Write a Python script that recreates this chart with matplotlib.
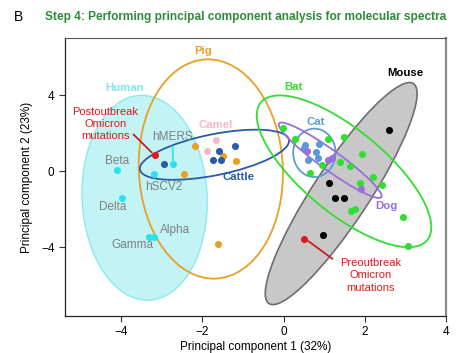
import matplotlib
matplotlib.use("Agg")
import matplotlib.pyplot as plt
from matplotlib.patches import Ellipse
from matplotlib.transforms import ScaledTranslation

plt.rcParams['font.family'] = ['Liberation Sans', 'DejaVu Sans']

# PCA scores
human_x = [-4.09, -3.97, -3.32, -3.19, -3.18, -2.73]
human_y = [0.05, -1.40, -3.44, -3.44, -0.16, 0.40]
pig_x = [-2.46, -2.18, -1.49, -1.18, -1.62]
pig_y = [-0.12, 1.31, 0.79, 0.54, -3.82]
camel_x = [-1.88, -1.67]
camel_y = [1.05, 1.62]
cattle_x = [-2.95, -1.58, -1.74, -1.55, -1.20]
cattle_y = [0.40, 1.05, 0.58, 0.61, 1.31]
cat_x = [0.52, 0.87, 0.80, 0.85, 0.60, 0.50]
cat_y = [1.36, 1.45, 1.01, 0.70, 0.58, 1.20]
dog_x = [0.58, 1.09, 1.20, 1.90]
dog_y = [1.07, 0.58, 0.70, -0.91]
bat_x = [-0.02, 0.28, 1.10, 1.49, 1.94, 1.40, 1.63, 0.95, 0.64, 1.88, 2.21, 2.43, 1.67, 1.77, 2.95, 3.06]
bat_y = [2.27, 1.71, 1.71, 1.80, 0.93, 0.49, 0.28, 0.31, -0.09, -0.61, -0.30, -0.70, -2.10, -1.96, -2.40, -3.94]
mouse_x = [2.59, 1.13, 1.28, 1.49, 0.97]
mouse_y = [2.18, -0.61, -1.38, -1.38, -3.34]
post_x, post_y = [-3.17], [0.87]
pre_x, pre_y = [0.50], [-3.53]

variants = ['Beta', 'Delta', 'Gamma', 'Alpha', 'hSCV2', 'hMERS']

cyan = '#2ee0ee'
orange = '#e9a025'
pink = '#f5b8c8'
navy = '#2a5aa8'
green = '#2fe02f'
lblue = '#5b9bd5'
purple = '#9b6ddd'
red = '#dd1a1a'
gray_txt = '#7f7f7f'

fig = plt.figure(figsize=(4.66, 3.53), dpi=100)
ax = fig.add_axes([0.1395, 0.1048, 0.8175, 0.7875])
ax.set_xlim(-5.38, 4.0)
ax.set_ylim(-7.6, 7.0)


def ell(cx, cy, a, b, ang, **kw):
    # a, b: semi axes in screen pixels
    tr = fig.dpi_scale_trans + ScaledTranslation(cx, cy, ax.transData)
    e = Ellipse((0, 0), 2 * a / 100, 2 * b / 100, angle=ang, transform=tr, **kw)
    ax.add_patch(e)


# filled ellipses
ell(-3.42, -1.39, 102.5, 62.5, 92.5, facecolor='#c2f3f5', edgecolor='#8ceaf0', lw=1.0, zorder=1)
ell(1.42, -1.17, 131.6, 28, 56.7, facecolor='#c8c8c8', edgecolor='#6e6e6e', lw=1.2, zorder=1)
# outline ellipses
ell(-1.79, 0.12, 109.7, 72, 92.6, facecolor='none', edgecolor=orange, lw=1.3, zorder=2)
ell(-1.70, 0.87, 76, 20.5, 11.4, facecolor='none', edgecolor=navy, lw=1.3, zorder=2)
ell(1.49, 0.0, 108, 41.5, -39.6, facecolor='none', edgecolor=green, lw=1.3, zorder=2)
ell(0.76, 0.97, 21.2, 24.2, 0, facecolor='none', edgecolor=lblue, lw=1.3, zorder=2)
ell(1.15, 0.58, 63, 10, -35.8, facecolor='none', edgecolor=purple, lw=1.3, zorder=2)

s = 26
ax.scatter(human_x, human_y, s=s, color=cyan, zorder=3, linewidths=0)
ax.scatter(pig_x, pig_y, s=s, color=orange, zorder=3, linewidths=0)
ax.scatter(camel_x, camel_y, s=s, color=pink, zorder=3, linewidths=0)
ax.scatter(cattle_x, cattle_y, s=s, color=navy, zorder=3, linewidths=0)
ax.scatter(bat_x, bat_y, s=s, color=green, zorder=3, linewidths=0)
ax.scatter(cat_x, cat_y, s=s, color=lblue, zorder=3, linewidths=0)
ax.scatter(dog_x, dog_y, s=s, color=purple, zorder=3, linewidths=0)
ax.scatter(mouse_x, mouse_y, s=s, color='black', zorder=3, linewidths=0)
ax.scatter(post_x, post_y, s=s, color=red, zorder=3, linewidths=0)
ax.scatter(pre_x, pre_y, s=s, color=red, zorder=3, linewidths=0)

# group labels
fs = 8.5
lab = dict(fontsize=8.2, fontweight='bold', ha='center', va='center', zorder=4)
ax.text(-3.92, 4.40, 'Human', color='#80e6ec', **lab)
ax.text(-1.97, 6.30, 'Pig', color=orange, **lab)
ax.text(-1.67, 2.42, 'Camel', color=pink, **lab)
ax.text(-1.10, -0.30, 'Cattle', color=navy, **lab)
ax.text(0.25, 4.43, 'Bat', color=green, **lab)
ax.text(0.79, 2.59, 'Cat', color=lblue, **lab)
ax.text(2.54, -1.84, 'Dog', color=purple, **lab)
ax.text(3.00, 5.18, 'Mouse', color='black', **lab)

# variant labels
vpos = [(-4.11, 0.54), (-4.20, -1.87), (-3.73, -3.89), (-2.68, -3.10), (-2.95, -0.82), (-2.74, 1.80)]
for name, (tx, ty) in zip(variants, vpos):
    ax.text(tx, ty, name, color=gray_txt, fontsize=fs, ha='center', va='center', zorder=4)
ax.plot([-2.72, -2.73], [0.55, 1.30], color=cyan, lw=1.2, zorder=3)

ax.text(-4.38, 2.48, 'Postoutbreak\nOmicron\nmutations', color=red, fontsize=8.0,
        ha='center', va='center', linespacing=1.3, zorder=4)
ax.plot([-3.69, -3.25], [1.93, 1.00], color='#c62020', lw=1.3, zorder=3)
ax.text(2.14, -5.46, 'Preoutbreak\nOmicron\nmutations', color=red, fontsize=8.0,
        ha='center', va='center', linespacing=1.3, zorder=4)
ax.plot([0.62, 1.20], [-3.68, -4.59], color='#c62020', lw=1.3, zorder=3)

ax.set_xticks([-4, -2, 0, 2, 4])
ax.set_yticks([-4, 0, 4])
ax.tick_params(labelsize=fs, length=4, width=0.8, colors='#333333', labelcolor='black')
ax.set_xlabel('Principal component 1 (32%)', fontsize=fs, labelpad=2)
ax.set_ylabel('Principal component 2 (23%)', fontsize=fs, labelpad=6)

for side in ['left', 'bottom']:
    ax.spines[side].set_color('#222222')
    ax.spines[side].set_linewidth(0.9)
ax.spines['top'].set_color('#555555')
ax.spines['top'].set_linewidth(0.8)
ax.spines['right'].set_color('#8a8a8a')
ax.spines['right'].set_linewidth(1.6)

fig.text(14 / 466, 1 - 17 / 353, 'B', fontsize=10, va='center', ha='left')
fig.text(45 / 466, 1 - 17 / 353, 'Step 4: Performing principal component analysis for molecular spectra',
         fontsize=8.6, fontweight='bold', color='#2e8b3a', va='center', ha='left')

fig.savefig('out.png', dpi=100)
